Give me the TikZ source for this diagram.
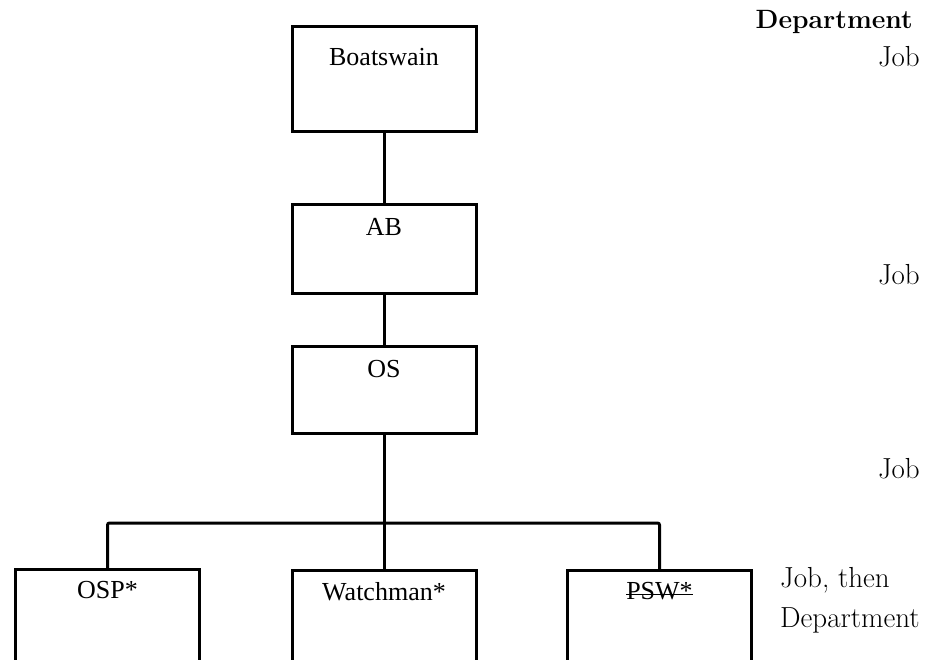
\documentclass[tikz,border=0pt]{standalone}
\usepackage{fontspec}
\newfontfamily\boxfont{Liberation Serif}
\usetikzlibrary{positioning}
\tikzset{
	rank/.style={draw,line width=3pt,minimum width=184pt,inner sep=0pt,anchor=north},
	rankname/.style={font=\boxfont\fontsize{26}{30}\selectfont,inner sep=0pt},
	side/.style={font=\fontsize{29}{33}\selectfont,inner sep=0pt},
	link/.style={line width=3pt},
}

\begin{document}
\begin{tikzpicture}[x=1pt,y=-1pt]
\useasboundingbox (0,0) rectangle (936,660);
\clip (0,0) rectangle (936,660);
% boxes
\node[rank,minimum height=105pt] (boat) at (384,25) {};
\node[rank,minimum height=89pt] (ab) at (384,203) {};
\node[rank,minimum height=87pt] (os) at (384,345) {};
\node[rank,minimum height=100pt] (osp) at (107.5,568) {};
\node[rank,minimum height=100pt] (watch) at (384,569) {};
\node[rank,minimum height=100pt] (psw) at (659.5,569) {};
% names
\node[rankname,below=23pt of boat.north] (tboat) {Boatswain};
\node[rankname,below=15pt of ab.north] (tab) {AB};
\node[rankname,below=15pt of os.north] (tos) {OS};
\node[rankname,below=13pt of osp.north] (tosp) {OSP*};
\node[rankname,below=13pt of watch.north] (twatch) {Watchman*};
\node[rankname,below=13pt of psw.north] (tpsw) {PSW*};
\draw[line width=1.4pt] ([yshift=5pt]tpsw.base west) -- ([yshift=5pt]tpsw.base east);
% connectors
\coordinate (bar) at (384,523);
\draw[link] (boat.south) -- (ab.north);
\draw[link] (ab.south) -- (os.north);
\draw[link] (os.south) -- (watch.north);
\draw[link,rounded corners=2pt] (osp.north) |- (bar) -| (psw.north);
% right side
\node[side,font=\fontsize{26.5}{30}\selectfont,anchor=east] (dep) at (913,22) {\textbf{Department}};
\node[side,anchor=east] (job1) at (920,57) {Job};
\node[side,anchor=east] (job2) at (920,275) {Job};
\node[side,anchor=east] (job3) at (920,469) {Job};
\node[side,anchor=west] (job4) at (780,580) {Job, then};
\node[side,anchor=west] (dep2) at (780,620) {Department};
\end{tikzpicture}
\end{document}
